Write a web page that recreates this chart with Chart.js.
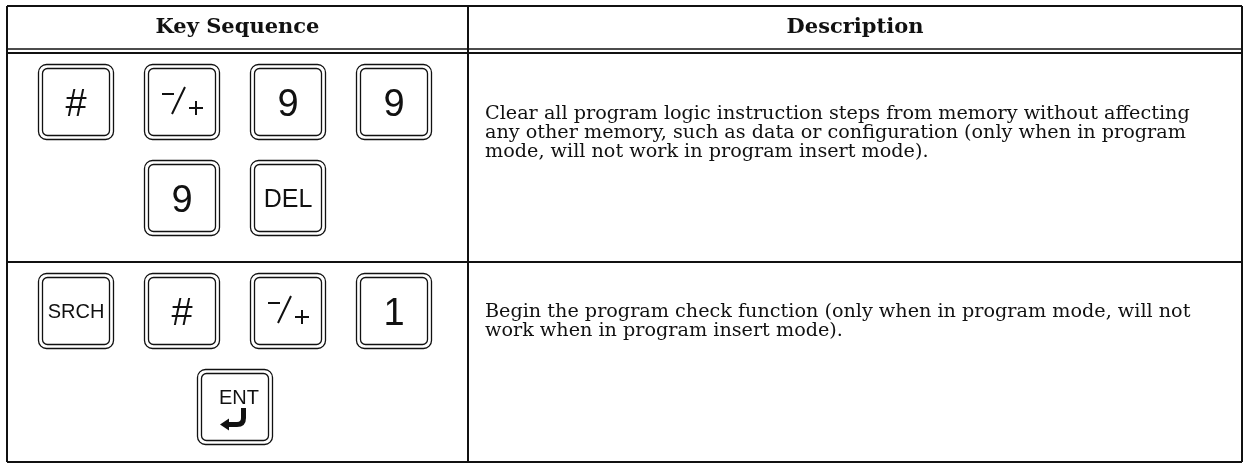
<!DOCTYPE html>
<html>
<head>
<meta charset="utf-8">
<script src="https://cdn.jsdelivr.net/npm/chart.js@4"></script>
<style>
  html, body { margin: 0; padding: 0; background: #fff; }
  canvas { display: block; }
</style>
</head>
<body>
<canvas id="keyChart" width="1244" height="464"></canvas>
<script>
// ** Table content **
const headerLabels = ['Key Sequence', 'Description'];
const rowKeyLines = [
    [['#', '-/+', '9', '9'], ['9', 'DEL']],
    [['SRCH', '#', '-/+', '1'], ['ENT']]
];
const rowDescriptions = [
    ['Clear all program logic instruction steps from memory without affecting',
     'any other memory, such as data or configuration (only when in program',
     'mode, will not work in program insert mode).'],
    ['Begin the program check function (only when in program mode, will not',
     'work when in program insert mode).']
];

// layout in scale units (1 unit = 1 px of the page)
const table = {
    left: 7, right: 1242, top: 6, bottom: 462,
    headLine1: 49, headLine2: 53, headText: 33,
    colSplit: 468, rowTops: [53, 262],
    keyCenter: 235, keyStep: 106, keyFirstLine: 49, keyLineStep: 96,
    textLeft: 485, textFirst: [119, 317], textStep: 19
};
const keyFontSizes = { 'DEL': 25, 'SRCH': 20, 'ENT': 20 };
const ink = '#111';

function drawSignKey(ctx, cx, cy) {
    ctx.lineWidth = 2;
    ctx.lineCap = 'butt';
    ctx.beginPath();
    ctx.moveTo(cx - 20, cy - 8); ctx.lineTo(cx - 8, cy - 8);          // minus
    ctx.moveTo(cx + 3, cy - 15); ctx.lineTo(cx - 10, cy + 12);        // slash
    ctx.moveTo(cx + 7, cy + 6); ctx.lineTo(cx + 21, cy + 6);          // plus
    ctx.moveTo(cx + 14, cy - 1); ctx.lineTo(cx + 14, cy + 13);
    ctx.stroke();
}

function drawEnterKey(ctx, cx, cy) {
    ctx.font = '20px "Liberation Sans", Arial, sans-serif';
    ctx.textAlign = 'center';
    ctx.textBaseline = 'alphabetic';
    ctx.fillText('ENT', cx + 4, cy - 3.5);
    ctx.lineWidth = 5;
    ctx.beginPath();
    ctx.moveTo(cx + 8.5, cy + 1);
    ctx.lineTo(cx + 8.5, cy + 11);
    ctx.quadraticCurveTo(cx + 8.5, cy + 17.5, cx + 2, cy + 17.5);
    ctx.lineTo(cx - 7, cy + 17.5);
    ctx.stroke();
    ctx.beginPath();
    ctx.moveTo(cx - 15, cy + 17.5);
    ctx.lineTo(cx - 6, cy + 11.5);
    ctx.lineTo(cx - 6, cy + 23.5);
    ctx.closePath();
    ctx.fill();
}

// Each key cap becomes a canvas used as the point style
function makeKeyImage(label) {
    const size = 78;
    const c = document.createElement('canvas');
    c.width = size; c.height = size;
    const ctx = c.getContext('2d');
    const cx = size / 2, cy = size / 2;
    ctx.strokeStyle = ink;
    ctx.fillStyle = ink;
    ctx.lineWidth = 1.3;
    ctx.beginPath(); ctx.roundRect(1.5, 1.5, 75, 75, 8); ctx.stroke();
    ctx.beginPath(); ctx.roundRect(5.5, 5.5, 67, 67, 5); ctx.stroke();

    if (label === '-/+') {
        drawSignKey(ctx, cx, cy);
    } else if (label === 'ENT') {
        drawEnterKey(ctx, cx, cy);
    } else {
        const fs = keyFontSizes[label] || 38;
        ctx.font = fs + 'px "Liberation Sans", Arial, sans-serif';
        ctx.textAlign = 'center';
        ctx.textBaseline = 'alphabetic';
        ctx.fillText(label, cx, cy + fs * 0.36);
    }
    return c;
}

const keyPoints = [];
rowKeyLines.forEach((lines, r) => {
    lines.forEach((keys, l) => {
        keys.forEach((label, i) => {
            keyPoints.push({
                x: table.keyCenter + (i - (keys.length - 1) / 2) * table.keyStep,
                y: table.rowTops[r] + table.keyFirstLine + l * table.keyLineStep,
                label: label
            });
        });
    });
});

// ** Grid lines and text of the table **
const tablePlugin = {
    id: 'keyTable',
    beforeDatasetsDraw(chart) {
        const ctx = chart.ctx;
        const sx = v => chart.scales.x.getPixelForValue(v);
        const sy = v => chart.scales.y.getPixelForValue(v);
        ctx.save();
        ctx.strokeStyle = ink;

        const hLine = (y, w) => {
            ctx.lineWidth = w;
            ctx.beginPath(); ctx.moveTo(sx(table.left), sy(y)); ctx.lineTo(sx(table.right), sy(y)); ctx.stroke();
        };
        const vLine = (x, w) => {
            ctx.lineWidth = w;
            ctx.beginPath(); ctx.moveTo(sx(x), sy(table.top)); ctx.lineTo(sx(x), sy(table.bottom)); ctx.stroke();
        };
        hLine(table.top, 2);
        hLine(table.headLine1, 1.6);
        hLine(table.headLine2, 2.2);
        hLine(table.rowTops[1], 2);
        hLine(table.bottom, 2);
        vLine(table.left, 2);
        vLine(table.colSplit, 2);
        vLine(table.right, 2);

        ctx.fillStyle = ink;
        ctx.textBaseline = 'alphabetic';
        ctx.textAlign = 'center';
        ctx.font = 'bold 21px "DejaVu Serif", serif';
        ctx.fillText(headerLabels[0], sx((table.left + table.colSplit) / 2), sy(table.headText));
        ctx.fillText(headerLabels[1], sx((table.colSplit + table.right) / 2), sy(table.headText));

        ctx.textAlign = 'left';
        ctx.font = '19.2px "DejaVu Serif", serif';
        rowDescriptions.forEach((lines, r) => {
            lines.forEach((txt, l) => {
                ctx.fillText(txt, sx(table.textLeft), sy(table.textFirst[r] + l * table.textStep));
            });
        });
        ctx.restore();
    }
};

new Chart(document.getElementById('keyChart'), {
    type: 'scatter',
    data: {
        datasets: [{
            data: keyPoints,
            pointStyle: keyPoints.map(p => makeKeyImage(p.label)),
            pointRadius: 38,
            pointHoverRadius: 38
        }]
    },
    options: {
        responsive: false,
        animation: false,
        events: [],
        layout: { padding: 0, autoPadding: false },
        plugins: { legend: { display: false }, tooltip: { enabled: false } },
        scales: {
            x: { type: 'linear', display: false, min: 0, max: 1244 },
            y: { type: 'linear', display: false, min: 0, max: 464, reverse: true }
        }
    },
    plugins: [tablePlugin]
});
</script>
</body>
</html>
